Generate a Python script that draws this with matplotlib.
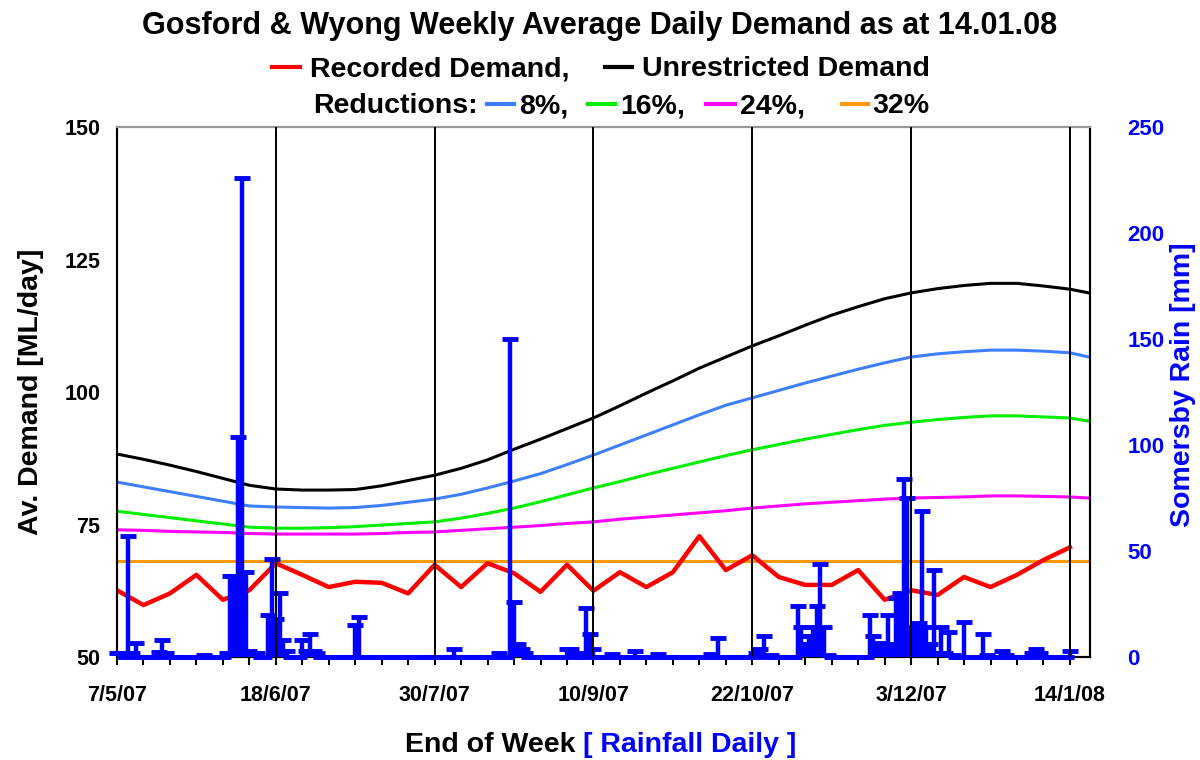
import datetime as dt
import matplotlib
matplotlib.use("Agg")
import matplotlib.pyplot as plt
import matplotlib.dates as mdates
from matplotlib.ticker import FixedLocator, FixedFormatter
from matplotlib.lines import Line2D

plt.rcParams['font.family'] = ['Liberation Sans', 'DejaVu Sans']
plt.rcParams['font.weight'] = 'bold'

# ---- data -------------------------------------------------------------
start = dt.date(2007, 5, 7)
end = dt.date(2008, 1, 19)

# weekly recorded demand (ML/day), one value per week ending 7/5/07 .. 14/1/08
recorded = [62.6, 59.8, 62.0, 65.5, 60.8, 62.6, 67.7, 65.5, 63.2, 64.2,
            64.0, 62.0, 67.4, 63.2, 67.7, 65.8, 62.3, 67.4, 62.5, 66.0,
            63.2, 66.0, 72.8, 66.4, 69.2, 65.1, 63.6, 63.6, 66.4, 60.8,
            62.6, 61.7, 65.1, 63.2, 65.5, 68.3, 70.7]

# demand curves, weekly values plus one at the end of the axis (19/1/08)
unrestricted = [88.3, 87.3, 86.2, 85.0, 83.7, 82.4, 81.7, 81.5, 81.5, 81.6,
                82.3, 83.3, 84.3, 85.6, 87.2, 89.2, 91.1, 93.1, 95.1, 97.4,
                99.8, 102.1, 104.5, 106.6, 108.7, 110.6, 112.6, 114.5, 116.1, 117.6,
                118.7, 119.5, 120.1, 120.5, 120.5, 120.0, 119.4, 118.7]
red_8 = [83.0, 82.1, 81.2, 80.3, 79.4, 78.5, 78.3, 78.2, 78.1, 78.2,
         78.6, 79.2, 79.8, 80.7, 81.9, 83.2, 84.6, 86.3, 88.1, 90.0,
         91.9, 93.8, 95.7, 97.5, 98.9, 100.3, 101.7, 103.0, 104.3, 105.5,
         106.6, 107.2, 107.6, 107.9, 107.9, 107.7, 107.4, 106.6]
red_16 = [77.5, 76.9, 76.3, 75.7, 75.1, 74.5, 74.3, 74.3, 74.4, 74.6,
          74.9, 75.2, 75.5, 76.2, 77.1, 78.1, 79.3, 80.6, 81.9, 83.1,
          84.4, 85.6, 86.8, 88.0, 89.1, 90.1, 91.1, 92.0, 92.9, 93.7,
          94.3, 94.8, 95.2, 95.5, 95.5, 95.3, 95.1, 94.5]
red_24 = [74.0, 73.9, 73.7, 73.6, 73.5, 73.3, 73.2, 73.2, 73.2, 73.2,
          73.3, 73.5, 73.6, 73.9, 74.2, 74.5, 74.8, 75.2, 75.5, 76.0,
          76.4, 76.8, 77.2, 77.6, 78.1, 78.5, 78.9, 79.2, 79.5, 79.8,
          80.0, 80.1, 80.2, 80.4, 80.4, 80.3, 80.2, 80.0]
red_32 = 68.1

# daily rainfall at Somersby (mm), days counted from 7/5/07
rain_day = [0, 1, 3, 4, 5, 11, 12, 13, 23,
            29, 30, 31, 32, 33, 34, 35, 36, 37,
            40, 41, 42, 43, 44, 45, 49, 50, 51, 52, 53,
            63, 64, 89, 101, 104, 105, 106, 107, 108,
            119, 120, 122, 124, 125, 126, 131, 137, 143, 157, 159,
            169, 170, 171, 173,
            180, 181, 182, 183, 184, 185, 186, 187, 188,
            199, 200, 201, 202, 203, 204, 205, 206, 207, 208, 209,
            210, 211, 212, 213, 214, 215, 216, 217, 218, 219, 220, 221,
            224, 229, 230, 234, 235, 242, 243, 244, 252]
rain_mm = [2, 2, 57, 2, 6.6, 2.5, 8, 2, 1,
           2, 38, 38, 104, 226, 40, 3, 2, 2,
           20, 46, 18, 30, 8, 3, 8, 3, 11, 3, 2,
           15, 19, 4, 2, 150, 26, 6, 4, 2,
           4, 4, 2, 23, 11, 4, 1.5, 3, 1.5, 1.5, 9,
           2, 4, 10, 1,
           24, 14, 6, 10, 14, 24, 44, 14, 1,
           20, 10, 6, 6.6, 4, 20, 6, 28, 30, 84, 75,
           14, 14, 16, 69, 14, 6, 41, 2, 14, 2, 12, 1,
           16.5, 11, 1, 3, 1, 2, 4, 2, 3]

tick_labels = ['7/5/07', '18/6/07', '30/7/07', '10/9/07',
               '22/10/07', '3/12/07', '14/1/08']

# ---- derived dates ----------------------------------------------------
weeks = [start + dt.timedelta(weeks=k) for k in range(len(recorded))]
curve_dates = weeks + [end]
rain_map = dict(zip(rain_day, rain_mm))
n_days = (weeks[-1] - start).days + 1
days = [start + dt.timedelta(days=d) for d in range(n_days)]
rain_all = [rain_map.get(d, 0) for d in range(n_days)]

# ---- figure -----------------------------------------------------------
fig = plt.figure(figsize=(12, 7.6), dpi=100)
ax = fig.add_axes([0.0975, 0.1355, 0.8108, 0.6974])

ax.plot(curve_dates, unrestricted, color='black', lw=2.2)
ax.plot(curve_dates, red_8, color='#3f7fff', lw=2.2)
ax.plot(curve_dates, red_16, color='#00ee00', lw=2.2)
ax.plot(curve_dates, red_24, color='#ff00ff', lw=2.2)
ax.plot(curve_dates, [red_32] * len(curve_dates), color='#ff9900', lw=2.2)
ax.plot(weeks, recorded, color='#ff0000', lw=3.2)

ax.set_ylim(50, 150)
ax.set_yticks([50, 75, 100, 125, 150])
ax.set_xlim(mdates.date2num(start), mdates.date2num(end) + 0.3)

ax.xaxis.set_major_locator(FixedLocator([mdates.date2num(w) for w in weeks[::6]]))
ax.xaxis.set_major_formatter(FixedFormatter(tick_labels))
ax.xaxis.set_minor_locator(FixedLocator([mdates.date2num(w) for w in weeks]))
ax.tick_params(axis='x', which='both', direction='out', length=6, width=1.5,
               labelsize=15.5, pad=14)
ax.tick_params(axis='y', length=0, labelsize=15.5, pad=12)
for lab in ax.get_xticklabels() + ax.get_yticklabels():
    lab.set_fontweight('bold')

ax2 = ax.twinx()
ax2.set_ylim(0, 250)
ax2.set_yticks([0, 50, 100, 150, 200, 250])
ax2.tick_params(axis='y', length=0, labelsize=16, labelcolor='#0000ff', pad=27)
for lab in ax2.get_yticklabels():
    lab.set_fontweight('bold')

# rainfall: daily spikes with dash caps
ax2.vlines(days, 0, rain_all, color='#0000ff', lw=3.2, zorder=3)
ax2.plot(days, rain_all, ls='none', marker='_', ms=11, mew=3.5,
         color='#0000ff', clip_on=False, zorder=3)

# vertical gridlines drawn above the rain
for w in weeks[6::6]:
    ax2.axvline(w, color='black', lw=1.4, zorder=4)

for a in (ax, ax2):
    for s in a.spines.values():
        s.set_linewidth(1.5)
    a.spines['top'].set_color('#999999')

# axis titles
fig.text(31 / 1200, 1 - 392 / 760, 'Av. Demand [ML/day]', fontsize=20.5,
         fontweight='bold', rotation=90, ha='center', va='center')
fig.text(1183 / 1200, 1 - 385 / 760, 'Somersby Rain [mm]', fontsize=20.5,
         fontweight='bold', color='#0000ff', rotation=90, ha='center', va='center')
fig.text(583 / 1200, 1 - 752 / 760, 'End of Week ', fontsize=20.5, fontweight='bold',
         ha='right', va='baseline')
fig.text(583 / 1200, 1 - 752 / 760, '[ Rainfall Daily ]', fontsize=20.5,
         fontweight='bold', color='#0000ff', ha='left', va='baseline')

# title and legend rows
fig.text(0.5, 1 - 34 / 760, 'Gosford & Wyong Weekly Average Daily Demand as at 14.01.08',
         fontsize=22, fontweight='bold', ha='center', va='baseline')


def key(x0, x1, y, color, label, tx):
    yy = 1 - y / 760
    fig.add_artist(Line2D([x0 / 1200, x1 / 1200], [yy, yy], color=color, lw=3))
    fig.text(tx / 1200, yy - 0.012, label, fontsize=20.5, fontweight='bold',
             ha='left', va='baseline')


key(272, 300, 67, '#ff0000', 'Recorded Demand,', 310)
key(605, 632, 67, 'black', 'Unrestricted Demand', 642)
fig.text(313 / 1200, 1 - 113 / 760, 'Reductions:', fontsize=20.5, fontweight='bold',
         ha='left', va='baseline')
key(487, 514, 104, '#3f7fff', '8%,', 519)
key(588, 615, 104, '#00ee00', '16%,', 620)
key(706, 735, 104, '#ff00ff', '24%,', 740)
key(842, 868, 104, '#ff9900', '32%', 872)

fig.savefig('out.png', dpi=100)
